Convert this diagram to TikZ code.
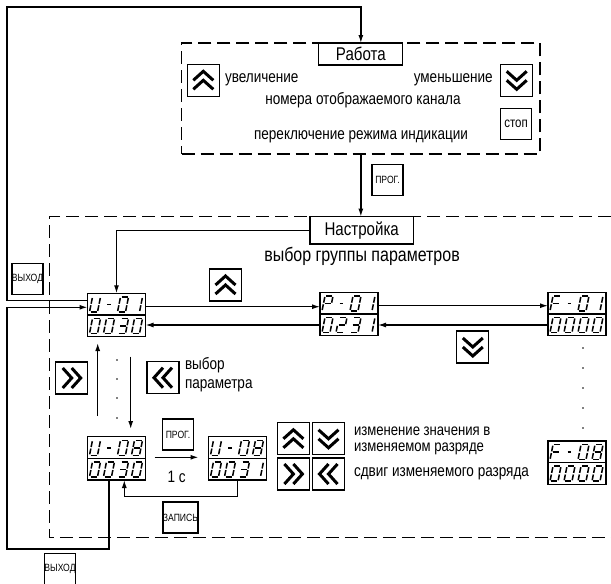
\documentclass[tikz,border=0pt]{standalone}
\usepackage{fontspec}
\setmainfont{Liberation Sans}[FakeStretch=0.82]
\usetikzlibrary{arrows.meta,calc}

\def\cU{b,c,d,e,f}
\def\cM{m}
\def\cZ{a,b,c,d,e,f}
\def\cI{b,c}
\def\cE{a,b,c,d,e,f,g}
\def\cP{a,b,e,f,g}
\def\cT{a,b,g,e,d}
\def\cH{a,b,g,c,d}
\def\cF{a,f,g,e}
\def\segpa{(1,15)--(7,15)}
\def\segpb{(8,14)--(8,8.3)}
\def\segpc{(8,6.7)--(8,1)}
\def\segpd{(1,0)--(7,0)}
\def\segpe{(0,1)--(0,6.7)}
\def\segpf{(0,8.3)--(0,14)}
\def\segpg{(1,7.5)--(7,7.5)}
\def\segpm{(2.2,7.5)--(5.8,7.5)}

\newcommand\segch[4]{%
  \begin{scope}[shift={([xshift=#2pt,yshift=#3pt]#1.north west)},x=1pt,y=1pt,xslant=0.2]
    \foreach \s in #4 {\edef\tmp{\noexpand\draw[segline] \csname segp\s\endcsname;}\tmp}
  \end{scope}}
\newcommand\disprow[6]{%
  \segch{#1}{2}{#2}{#3}\segch{#1}{16}{#2}{#4}\segch{#1}{30}{#2}{#5}\segch{#1}{44}{#2}{#6}}
\newcommand\chev[2]{%
  \begin{scope}[shift={(#1.center)},rotate=#2]
    \draw[chevline] (-10,0)--(0,-9)--(10,0) (-10,9)--(0,0)--(10,9);
  \end{scope}}

\begin{document}
\begin{tikzpicture}[x=1pt,y=-1pt,
  every node/.style={inner sep=0pt, outer sep=0pt},
  ln/.style={line width=1.3pt},
  arr/.style={ln, -{Latex[length=8pt,width=5pt]}},
  dsh/.style={line width=1.4pt, dash pattern=on 13pt off 6pt},
  disp/.style={draw, line width=1.2pt, minimum width=58pt, minimum height=43.4pt, fill=white},
  segline/.style={line width=1.5pt, line cap=butt},
  btn/.style={draw, line width=1.2pt, minimum width=31pt, minimum height=31pt, fill=white, font=\fontsize{10.5}{11}\selectfont},
  cbtn/.style={draw, line width=1.2pt, minimum width=32pt, minimum height=32pt, fill=white},
  chevline/.style={line width=3pt, miter limit=10},
  txt/.style={font=\fontsize{16.5}{18}\selectfont},
  ttl/.style={draw, line width=1.2pt, fill=white, font=\fontsize{18.4}{20}\selectfont},
]
\useasboundingbox (0,0) rectangle (611,584);

% top working-mode box
\node[draw, dsh, minimum width=358.3pt, minimum height=111pt] (workbox) at (360.85,98.5) {};
\node[ttl, minimum width=84pt, minimum height=22pt] (rab) at (360.85,54) {Работа};
\node[cbtn] (bup) at (203.3,80.3) {}; \chev{bup}{0}
\node[cbtn] (bdn) at (516.7,80.3) {}; \chev{bdn}{180}
\node[txt, anchor=west] (t1) at (225,80) {увеличение};
\node[txt, anchor=east] (t2) at (492.7,80) {уменьшение};
\node[txt] (t3) at (363,100) {номера отображаемого канала};
\node[btn, font=\fontsize{14}{15}\selectfont] (stop) at (516,124) {стоп};
\node[txt] (t4) at (361,137) {переключение режима индикации};

% setup box
\draw[dsh] (611,216.7) -- (49.3,216.7) -- (49.3,537.5) -- (611,537.5);
\node[ttl, minimum width=103.3pt, minimum height=27.3pt] (nas) at (361.7,230.3) {Настройка};
\node[btn] (prog1) at (387.5,180) {ПРОГ.};
\draw[arr] (workbox.south) -- (workbox.south |- nas.north);
\node[font=\fontsize{19.5}{21}\selectfont] (t5) at (362,256.7) {выбор группы параметров};

% displays
\node[disp] (u01) at (116.5,315) {};
\node[disp] (p01) at (349,314) {};
\node[disp] (f01) at (577,314) {};
\node[disp] (u08a) at (116.5,458.3) {};
\node[disp] (u08b) at (237.5,458.3) {};
\node[disp] (f08) at (577,462.7) {};
\foreach \n in {u01,p01,f01,u08a,u08b,f08} \draw[line width=1.2pt] (\n.west) -- (\n.east);
\disprow{u01}{-18.7}{\cU}{\cM}{\cZ}{\cI}
\disprow{u01}{-40.2}{\cZ}{\cZ}{\cH}{\cZ}
\disprow{p01}{-18.7}{\cP}{\cM}{\cZ}{\cI}
\disprow{p01}{-40.2}{\cZ}{\cT}{\cH}{\cI}
\disprow{f01}{-18.7}{\cF}{\cM}{\cZ}{\cI}
\disprow{f01}{-40.2}{\cZ}{\cZ}{\cZ}{\cZ}
\disprow{u08a}{-18.7}{\cU}{\cM}{\cZ}{\cE}
\disprow{u08a}{-40.2}{\cZ}{\cZ}{\cH}{\cZ}
\disprow{u08b}{-18.7}{\cU}{\cM}{\cZ}{\cE}
\disprow{u08b}{-40.2}{\cZ}{\cZ}{\cH}{\cI}
\disprow{f08}{-18.7}{\cF}{\cM}{\cZ}{\cE}
\disprow{f08}{-40.2}{\cZ}{\cZ}{\cZ}{\cZ}

% outer loops
\coordinate (tl) at (7,7);
\coordinate (bl) at (7,549);
\draw[arr] ([yshift=14.3pt]u01.west) -| (tl) -| (rab.north);
\draw[arr] ([xshift=-7.5pt]u08a.south) |- (bl) |- ([yshift=7.7pt]u01.west);
\node[btn] (exit1) at (27.5,279) {ВЫХОД};
\node[btn] (exit2) at (60,569) {ВЫХОД};

% group selection
\draw[arr] (nas.west) -| (u01.north);
\draw[arr] ([yshift=8.3pt]u01.east) -- ([yshift=8.3pt]u01.east -| p01.west);
\draw[arr] ([yshift=-11pt]p01.west) -- ([yshift=-11pt]p01.west -| u01.east);
\draw[arr] ([yshift=8.3pt]p01.east) -- ([yshift=8.3pt]p01.east -| f01.west);
\draw[arr] ([yshift=-11pt]f01.west) -- ([yshift=-11pt]f01.west -| p01.east);
\node[cbtn] (gup) at (225.5,285) {}; \chev{gup}{0}
\node[cbtn] (gdn) at (472.8,347) {}; \chev{gdn}{180}

% parameter selection
\coordinate (ua1) at (97.7,416);
\coordinate (ua2) at (97.7,343);
\coordinate (da1) at (130.7,356.7);
\coordinate (da2) at (130.7,429);
\draw[arr] (ua1) -- (ua2);
\draw[arr] (da1) -- (da2);
\foreach \yy in {360,379,398,418} \fill (117,\yy) circle (0.9pt);
\foreach \yy in {348,368,388,408,428} \fill (583,\yy) circle (0.9pt);
\node[cbtn] (pr) at (71.7,378) {}; \chev{pr}{-90}
\node[cbtn] (pl) at (163,377.7) {}; \chev{pl}{90}
\node[txt, anchor=west] (t6) at (185,365) {выбор};
\node[txt, anchor=west] (t7) at (185,386) {параметра};

% value editing
\node[btn] (prog2) at (178,434.5) {ПРОГ.};
\draw[arr, shorten <=9pt, shorten >=10pt] (u08a.east |- 0,457.3) -- (u08b.west |- 0,457.3);
\node[txt] (t8) at (176.7,476.7) {1 с};
\draw[arr] (u08b.south) -- ++(0,16.7) -| ([xshift=7.8pt]u08a.south);
\node[btn] (zap) at (180.5,517.5) {ЗАПИСЬ};

\node[cbtn] (eup) at (293.4,438.8) {}; \chev{eup}{0}
\node[cbtn] (edn) at (328.5,438.8) {}; \chev{edn}{180}
\node[cbtn] (erg) at (293.4,474) {}; \chev{erg}{-90}
\node[cbtn] (elf) at (328.5,474) {}; \chev{elf}{90}
\node[anchor=west, align=left, font=\fontsize{16}{15.8}\selectfont] (t9) at (354,441.2) {изменение значения в\\изменяемом разряде};
\node[txt, anchor=west] (t11) at (354,474) {сдвиг изменяемого разряда};
\end{tikzpicture}
\end{document}
